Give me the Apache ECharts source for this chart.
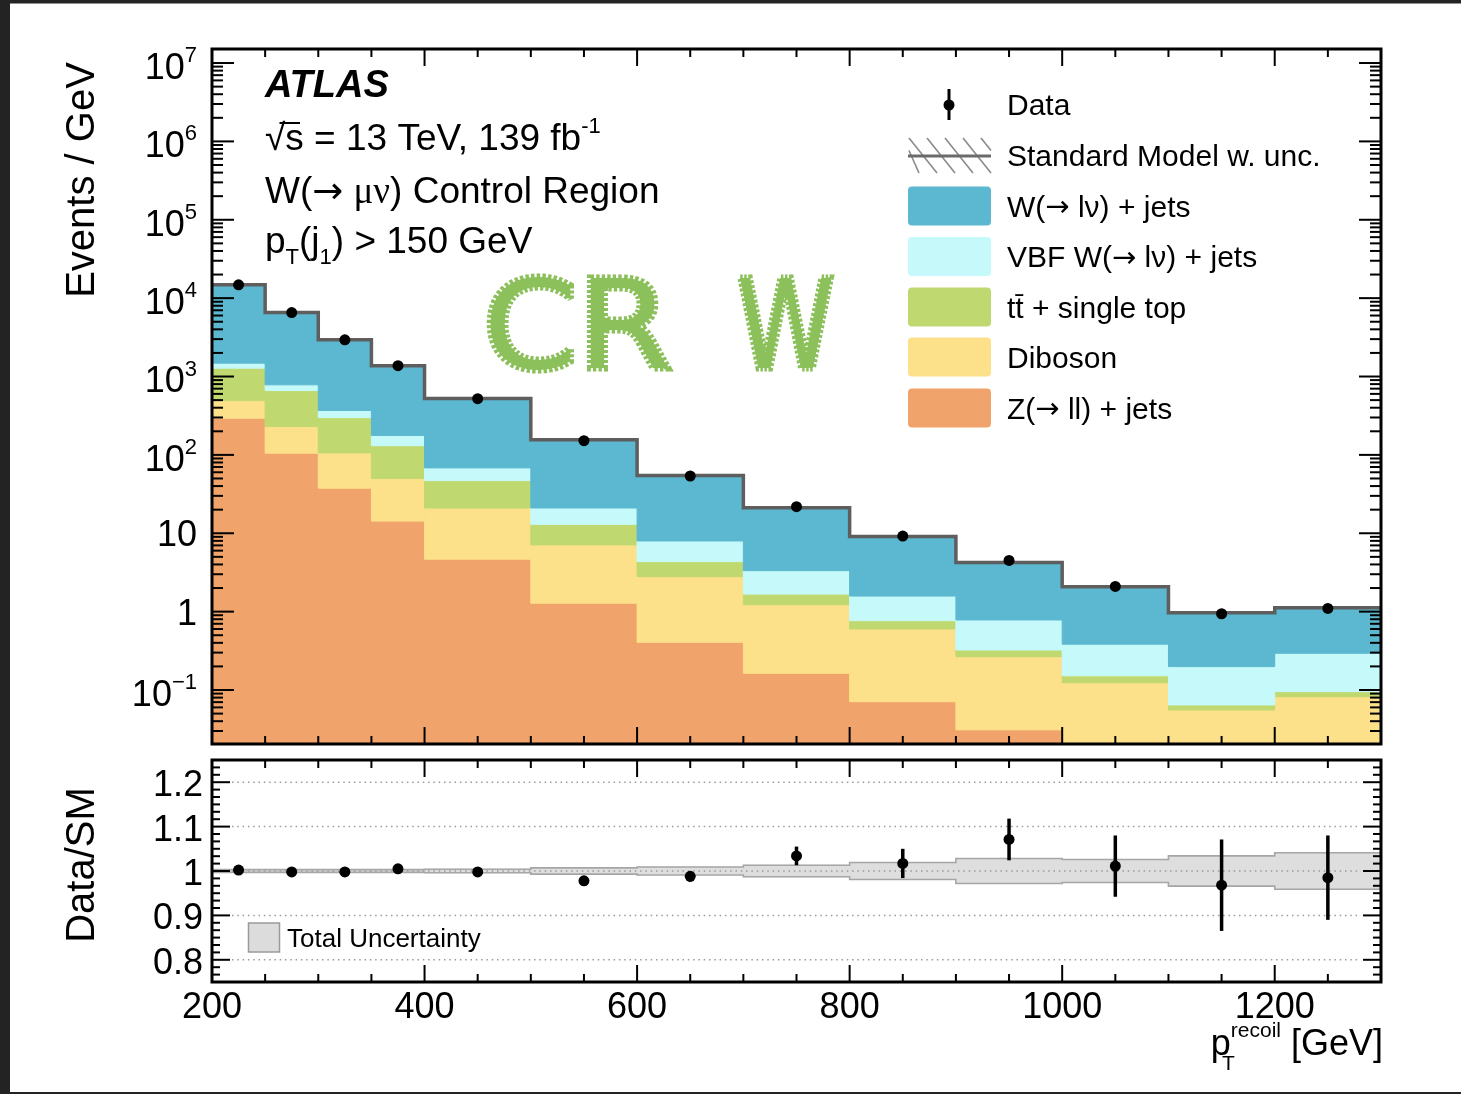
<!DOCTYPE html>
<html>
<head>
<meta charset="utf-8">
<script src="https://cdn.jsdelivr.net/npm/echarts@6/dist/echarts.min.js"></script>
<style>html,body{margin:0;padding:0;background:#fff;}#c{width:1461px;height:1094px;}</style>
</head>
<body>
<div id="c"></div>
<script>
// ---------------- data ----------------
const binLow  = [200,250,300,350,400,500,600,700,800,900,1000,1100,1200];
const binHigh = [250,300,350,400,500,600,700,800,900,1000,1100,1200,1300];
const zJets   = [294,105,37.6,14.3,4.67,1.28,0.406,0.163,0.071,0.031,0.021,0.018,0.016];
const diboson = [199,125,68.4,35.6,16.3,5.82,2.39,1.06,0.530,0.235,0.103,0.0376,0.0662];
const ttbar   = [786,432,193,81.1,26.0,5.9,1.55,0.45,0.166,0.058,0.028,0.0088,0.0131];
const vbfW    = [201,121,69,46,21.3,8.0,3.63,1.66,0.813,0.459,0.232,0.1346,0.1987];
const wJets   = [13320,5767,2572,1191,455,135,46.5,17.9,7.48,3.44,1.70,0.771,0.826];
const dataVal = [14800,6540,2935,1375,522,152,53.8,21.8,9.2,4.5,2.1,0.94,1.10];
const ratioVal = [1.002,0.998,0.998,1.005,0.998,0.978,0.988,1.034,1.017,1.071,1.011,0.968,0.985];
const ratioErr = [0.004,0.005,0.006,0.007,0.008,0.010,0.012,0.021,0.033,0.047,0.069,0.103,0.095];
const smUnc    = [0.003,0.003,0.003,0.003,0.004,0.007,0.009,0.013,0.019,0.028,0.026,0.034,0.041];
const xTickLabels = [200,400,600,800,1000,1200];
const ratioTickLabels = [0.8,0.9,1.0,1.1,1.2];
const logTickExps = [-1,0,1,2,3,4,5,6,7];

// ---------------- layout constants ----------------
const FONT = '"Liberation Sans", Arial, Helvetica, sans-serif';
const ARROWFONT = '"DejaVu Sans", sans-serif';
const X_MIN = 200, X_MAX = 1300;
const Y_MIN = -1.689, Y_MAX = 7.179;   // log10 range of upper panel
const R_MIN = 0.75, R_MAX = 1.25;

const layers = [
  {name:'Z(→ ll) + jets', label:'Z({a|→} ll) + jets', vals:zJets, color:'#f0a46b'},
  {name:'Diboson', label:'Diboson', vals:diboson, color:'#fce08a'},
  {name:'tt̄ + single top', label:'tt̄ + single top', vals:ttbar, color:'#bfd970'},
  {name:'VBF W(→ lν) + jets', label:'VBF W({a|→} lν) + jets', vals:vbfW, color:'#c6f9fa'},
  {name:'W(→ lν) + jets', label:'W({a|→} lν) + jets', vals:wJets, color:'#5bb8d0'}
];
const cum = [binLow.map(()=>0)];
layers.forEach((l,li)=>{ cum.push(cum[li].map((c,i)=>c + l.vals[i])); });
const total = cum[layers.length];
const lg = v => v > 0 ? Math.log10(v) : Y_MIN - 1;

// ---------------- series ----------------
const series = [];
layers.forEach((l,li)=>{
  series.push({
    type:'custom', name:l.name, xAxisIndex:0, yAxisIndex:0, clip:true, silent:true, z:2,
    encode:{x:[0,1], y:[2,3]},
    data: binLow.map((lo,i)=>[lo, binHigh[i], lg(cum[li][i]), lg(cum[li+1][i])]),
    renderItem(params, api){
      const a = api.coord([api.value(0), api.value(3)]);
      const b = api.coord([api.value(1), api.value(2)]);
      return {type:'rect', shape:{x:a[0], y:a[1], width:b[0]-a[0], height:b[1]-a[1]},
              style:{fill:l.color, stroke:l.color, lineWidth:1}};
    }
  });
});
// SM total step line
series.push({
  type:'custom', name:'SM', xAxisIndex:0, yAxisIndex:0, clip:true, silent:true, z:3,
  encode:{x:[0,1], y:2},
  data: binLow.map((lo,i)=>[lo, binHigh[i], lg(total[i])]),
  renderItem(params, api){
    if (params.dataIndex !== 0) return null;
    const pts = [];
    binLow.forEach((lo,i)=>{ pts.push(api.coord([lo, lg(total[i])])); pts.push(api.coord([binHigh[i], lg(total[i])])); });
    return {type:'polyline', shape:{points:pts}, style:{stroke:'#5e5e5e', lineWidth:3.5, fill:'none', lineJoin:'miter'}};
  }
});
// data points upper
series.push({
  type:'custom', name:'Data', xAxisIndex:0, yAxisIndex:0, clip:true, silent:true, z:4,
  encode:{x:0, y:1},
  data: binLow.map((lo,i)=>[(lo+binHigh[i])/2, lg(dataVal[i])]),
  renderItem(params, api){
    const p = api.coord([api.value(0), api.value(1)]);
    return {type:'circle', shape:{cx:p[0], cy:p[1], r:5.5}, style:{fill:'#000'}};
  }
});
// ratio band
series.push({
  type:'custom', name:'Unc', xAxisIndex:1, yAxisIndex:1, clip:true, silent:true, z:2,
  encode:{x:[0,1], y:[2,3]},
  data: binLow.map((lo,i)=>[lo, binHigh[i], 1 - smUnc[i], 1 + smUnc[i]]),
  renderItem(params, api){
    const a = api.coord([api.value(0), api.value(3)]);
    const b = api.coord([api.value(1), api.value(2)]);
    return {type:'rect', shape:{x:a[0], y:a[1], width:b[0]-a[0], height:b[1]-a[1]},
            style:{fill:'#dedede', stroke:'#dedede', lineWidth:0.8}};
  }
});
// ratio band outline
series.push({
  type:'custom', name:'UncLine', xAxisIndex:1, yAxisIndex:1, clip:true, silent:true, z:3,
  encode:{x:[0,1], y:2},
  data: binLow.map((lo,i)=>[lo, binHigh[i], 1]),
  renderItem(params, api){
    if (params.dataIndex !== 0) return null;
    const up = [], dn = [];
    binLow.forEach((lo,i)=>{
      up.push(api.coord([lo, 1 + smUnc[i]])); up.push(api.coord([binHigh[i], 1 + smUnc[i]]));
      dn.push(api.coord([lo, 1 - smUnc[i]])); dn.push(api.coord([binHigh[i], 1 - smUnc[i]]));
    });
    const st = {stroke:'#a6a6a6', lineWidth:1.6, fill:'none'};
    return {type:'group', children:[
      {type:'polyline', shape:{points:up}, style:st},
      {type:'polyline', shape:{points:dn}, style:st}
    ]};
  }
});
// ratio dotted reference lines
series.push({
  type:'custom', name:'RatioGrid', xAxisIndex:1, yAxisIndex:1, clip:true, silent:true, z:4,
  encode:{x:0, y:1},
  data: ratioTickLabels.map(v=>[X_MIN, v]),
  renderItem(params, api){
    const a = api.coord([X_MIN, api.value(1)]);
    const b = api.coord([X_MAX, api.value(1)]);
    return {type:'line', shape:{x1:a[0]+20, y1:a[1], x2:b[0]-20, y2:b[1]},
            style:{stroke:'#9a9a9a', lineWidth:1.5, lineDash:[1.5,3.8]}};
  }
});
// ratio points with error bars
series.push({
  type:'custom', name:'Ratio', xAxisIndex:1, yAxisIndex:1, clip:true, silent:true, z:5,
  encode:{x:0, y:[1,2,3]},
  data: binLow.map((lo,i)=>[(lo+binHigh[i])/2, ratioVal[i], ratioVal[i]-ratioErr[i], ratioVal[i]+ratioErr[i]]),
  renderItem(params, api){
    const p = api.coord([api.value(0), api.value(1)]);
    const lo = api.coord([api.value(0), api.value(2)]);
    const hi = api.coord([api.value(0), api.value(3)]);
    return {type:'group', children:[
      {type:'line', shape:{x1:p[0], y1:lo[1], x2:p[0], y2:hi[1]}, style:{stroke:'#000', lineWidth:3.5}},
      {type:'circle', shape:{cx:p[0], cy:p[1], r:5.5}, style:{fill:'#000'}}
    ]};
  }
});

// ticks and frames
function frameSeries(gi, yMin, yMax, yMajor, yMinor, yMajLen, yMinLen, xMajLen, xMinLen){
  const xMajor = [], xMinor = [];
  for (let v = 200; v < 1300; v += 50) { if (v % 200 === 0) xMajor.push(v); else xMinor.push(v); }
  return {
    type:'custom', xAxisIndex:gi, yAxisIndex:gi, clip:false, silent:true, z:10,
    encode:{x:0, y:1}, data:[[X_MIN, yMin]],
    renderItem(params, api){
      const ch = [];
      const L = api.coord([X_MIN, yMin])[0], R = api.coord([X_MAX, yMin])[0];
      const B = api.coord([X_MIN, yMin])[1], T = api.coord([X_MIN, yMax])[1];
      const ln = (x1,y1,x2,y2) => ch.push({type:'line', shape:{x1,y1,x2,y2}, style:{stroke:'#000', lineWidth:2}});
      xMajor.forEach(v=>{ const x = api.coord([v, yMin])[0]; ln(x,B,x,B-xMajLen); ln(x,T,x,T+xMajLen); });
      xMinor.forEach(v=>{ const x = api.coord([v, yMin])[0]; ln(x,B,x,B-xMinLen); ln(x,T,x,T+xMinLen); });
      yMajor.forEach(v=>{ const y = api.coord([X_MIN, v])[1]; ln(L,y,L+yMajLen,y); ln(R,y,R-yMajLen,y); });
      yMinor.forEach(v=>{ const y = api.coord([X_MIN, v])[1]; ln(L,y,L+yMinLen,y); ln(R,y,R-yMinLen,y); });
      ch.push({type:'rect', shape:{x:L, y:T, width:R-L, height:B-T}, style:{fill:'none', stroke:'#000', lineWidth:3}});
      return {type:'group', children:ch};
    }
  };
}
const logMinor = [];
for (let n = -2; n <= 7; n++) for (let k = 2; k <= 9; k++) { const v = n + Math.log10(k); if (v > Y_MIN && v < Y_MAX) logMinor.push(v); }
const ratioMinor = [];
for (let k = -3; k <= 27; k++) { if (((k % 6) + 6) % 6 !== 0) ratioMinor.push(0.8 + k/60); }
series.push(frameSeries(0, Y_MIN, Y_MAX, logTickExps, logMinor, 22, 11, 17, 8));
series.push(frameSeries(1, R_MIN, R_MAX, ratioTickLabels, ratioMinor, 18, 8, 17, 8));

// ---------------- graphics (texts, legend, page frame) ----------------
const txt = (x, y, text, size, extra) => Object.assign({type:'text', x, y, silent:true, z:50,
  style:Object.assign({text, fill:'#000', fontSize:size, fontFamily:FONT, align:'left', verticalAlign:'middle'}, (extra && extra.style) || {})},
  extra && extra.el || {});
const rich = {
  sup:{fontSize:22, fontFamily:FONT, verticalAlign:'top', lineHeight:26},
  sub:{fontSize:22, fontFamily:FONT, verticalAlign:'bottom', lineHeight:22},
  g:{fontSize:37, fontFamily:'"Liberation Serif", "Times New Roman", serif', verticalAlign:'middle', lineHeight:48},
  a:{fontSize:37, fontFamily:ARROWFONT, verticalAlign:'middle', lineHeight:48}
};
const legRich = {a:{fontSize:29, fontFamily:ARROWFONT, verticalAlign:'middle', lineHeight:34}};
const crwStyle = {fill:'#8bc05b', fontFamily:'"DejaVu Sans", sans-serif', fontWeight:'normal',
                  stroke:'#8bc05b', lineWidth:7, lineDash:[3,2], lineJoin:'round'};
const graphic = [
  {type:'rect', shape:{x:0, y:0, width:10, height:1094}, style:{fill:'#232323'}, silent:true, z:60},
  {type:'rect', shape:{x:0, y:0, width:1461, height:3.5}, style:{fill:'#232323'}, silent:true, z:60},
  {type:'rect', shape:{x:0, y:1092, width:1461, height:2}, style:{fill:'#232323'}, silent:true, z:60},
  // axis titles
  txt(83, 180, 'Events / GeV', 40, {style:{align:'center'}, el:{rotation:Math.PI/2}}),
  txt(83, 865, 'Data/SM', 40, {style:{align:'center'}, el:{rotation:Math.PI/2}}),
  txt(1383, 1045, 'p{sup|recoil} [GeV]', 36, {style:{align:'right', lineHeight:48,
      rich:{sup:{fontSize:21, fontFamily:FONT, verticalAlign:'top', lineHeight:34}}}}),
  txt(1222, 1064, 'T', 21),
  // ATLAS text block
  txt(265, 87, 'ATLAS', 38, {style:{fontWeight:'bold', fontStyle:'italic'}}),
  txt(265, 140, '√s = 13 TeV, 139 fb{sup|-1}', 37, {style:{lineHeight:48, rich}}),
  {type:'line', shape:{x1:279.5, y1:123, x2:300, y2:123}, style:{stroke:'#000', lineWidth:2}, silent:true, z:50},
  txt(265, 193, 'W({a|→} {g|μν}) Control Region', 37, {style:{lineHeight:48, rich}}),
  txt(265, 243, 'p{sub|T}(j{sub|1}) > 150 GeV', 37, {style:{lineHeight:52, rich}}),
  // CR W annotation
  txt(483, 336, 'CR', 123, {style:crwStyle, el:{scaleX:1.1}}),
  txt(737, 336, 'W', 123, {style:crwStyle, el:{scaleX:0.8}}),
  // legend: data
  {type:'line', shape:{x1:949, y1:89, x2:949, y2:120}, style:{stroke:'#000', lineWidth:3}, silent:true, z:50},
  {type:'circle', shape:{cx:949, cy:105, r:5.5}, style:{fill:'#000'}, silent:true, z:50},
  txt(1007, 107, 'Data', 30),
  // legend: SM hatch
  {type:'group', silent:true, z:50, children:[
    {type:'line', shape:{x1:909, y1:138, x2:937, y2:173}, style:{stroke:'#8a8a8a', lineWidth:1.6}},
    {type:'line', shape:{x1:927, y1:138, x2:955, y2:173}, style:{stroke:'#8a8a8a', lineWidth:1.6}},
    {type:'line', shape:{x1:945, y1:138, x2:973, y2:173}, style:{stroke:'#8a8a8a', lineWidth:1.6}},
    {type:'line', shape:{x1:963, y1:138, x2:991, y2:173}, style:{stroke:'#8a8a8a', lineWidth:1.6}},
    {type:'line', shape:{x1:981, y1:138, x2:991, y2:150.5}, style:{stroke:'#8a8a8a', lineWidth:1.6}},
    {type:'line', shape:{x1:909, y1:150.5, x2:919, y2:173}, style:{stroke:'#8a8a8a', lineWidth:1.6}},
    {type:'line', shape:{x1:908, y1:156, x2:991, y2:156}, style:{stroke:'#6a6a6a', lineWidth:3}}
  ]},
  txt(1007, 158, 'Standard Model w. unc.', 30),
  // total uncertainty legend
  {type:'rect', shape:{x:248.5, y:923, width:31, height:29}, style:{fill:'#dcdcdc', stroke:'#9a9a9a', lineWidth:1.5}, silent:true, z:50},
  txt(287, 940, 'Total Uncertainty', 26)
];
const legendRows = [206, 256.5, 307, 357, 408];
layers.slice().reverse().forEach((l,i)=>{
  graphic.push({type:'rect', shape:{x:908, y:legendRows[i]-19.5, width:83, height:39, r:4}, style:{fill:l.color}, silent:true, z:50});
  graphic.push(txt(1007, legendRows[i] + 2.5, l.label, 30, {style:{lineHeight:34, rich:legRich}}));
});

// ---------------- chart ----------------
const chart = echarts.init(document.getElementById('c'), null, {renderer:'canvas'});
chart.setOption({
  animation:false,
  backgroundColor:'#fff',
  grid:[
    {left:212, top:49, width:1169, height:695, show:false},
    {left:212, top:760, width:1169, height:222, show:false}
  ],
  xAxis:[
    {gridIndex:0, type:'value', min:X_MIN, max:X_MAX, interval:200,
     axisLine:{show:false}, axisTick:{show:false}, axisLabel:{show:false}, splitLine:{show:false}},
    {gridIndex:1, type:'value', min:X_MIN, max:X_MAX, interval:200,
     axisLine:{show:false}, axisTick:{show:false}, splitLine:{show:false},
     axisLabel:{show:true, margin:8, fontSize:36, color:'#000', fontFamily:FONT, showMaxLabel:false,
       formatter: v => xTickLabels.indexOf(Math.round(v)) >= 0 && Math.abs(v - Math.round(v)) < 1e-6 ? String(Math.round(v)) : ''}}
  ],
  yAxis:[
    {gridIndex:0, type:'value', min:Y_MIN, max:Y_MAX, splitNumber:9, minInterval:1, maxInterval:1,
     axisLine:{show:false}, axisTick:{show:false}, splitLine:{show:false},
     axisLabel:{show:true, margin:15, color:'#000', fontSize:36, fontFamily:FONT, showMinLabel:false, showMaxLabel:false,
       formatter: v => {
         const n = Math.round(v);
         if (Math.abs(v - n) > 1e-6 || logTickExps.indexOf(n) < 0) return '';
         if (n === 0) return '{c|1}';
         if (n === 1) return '{c|10}';
         return '{b|10}{s|' + (n < 0 ? '−' + (-n) : n) + '}';
       },
       rich:{
         b:{fontSize:36, fontFamily:FONT, color:'#000', lineHeight:36, verticalAlign:'bottom'},
         s:{fontSize:22, fontFamily:FONT, color:'#000', verticalAlign:'top', padding:[6,0,20,0]},
         c:{fontSize:36, fontFamily:FONT, color:'#000', padding:[6,0,0,0]}
       }}},
    {gridIndex:1, type:'value', min:R_MIN, max:R_MAX, splitNumber:5,
     axisLine:{show:false}, axisTick:{show:false}, splitLine:{show:false},
     axisLabel:{show:true, margin:9, color:'#000', fontSize:36, fontFamily:FONT, showMinLabel:false, showMaxLabel:false,
       formatter: v => {
         const m = ratioTickLabels.find(t => Math.abs(t - v) < 1e-6);
         if (m === undefined) return '';
         return '{r|' + (Math.abs(m - 1) < 1e-9 ? '1' : m.toFixed(1)) + '}';
       },
       rich:{r:{fontSize:36, fontFamily:FONT, color:'#000', padding:[8,0,0,0]}}}}
  ],
  series,
  graphic
});
</script>
</body>
</html>
